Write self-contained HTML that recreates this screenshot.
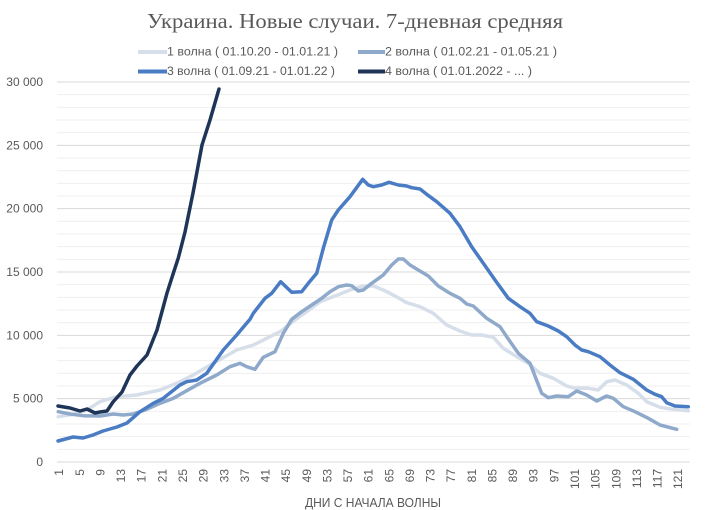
<!DOCTYPE html>
<html>
<head>
<meta charset="utf-8">
<style>
  html,body{margin:0;padding:0;background:#ffffff;}
  svg{display:block;}
  text{font-family:"Liberation Sans", sans-serif;}
</style>
</head>
<body>
<svg width="713" height="510" viewBox="0 0 713 510" xmlns="http://www.w3.org/2000/svg">
  <rect width="713" height="510" fill="#ffffff"/>
  <!-- Title -->
  <text x="147" y="28" font-family="Liberation Serif, serif" style="font-family:'Liberation Serif',serif" font-size="21" fill="#595959" textLength="416" lengthAdjust="spacingAndGlyphs">Украина. Новые случаи. 7-дневная средняя</text>

  <!-- Legend -->
  <line x1="138" y1="52" x2="167" y2="52" stroke="#D6DEEA" stroke-width="4"/>
  <text x="167" y="55.5" font-size="11.5" fill="#595959" textLength="171" lengthAdjust="spacingAndGlyphs">1 волна ( 01.10.20 - 01.01.21 )</text>
  <line x1="358" y1="52" x2="385" y2="52" stroke="#8FA9CB" stroke-width="4"/>
  <text x="385" y="55.5" font-size="11.5" fill="#595959" textLength="172" lengthAdjust="spacingAndGlyphs">2 волна ( 01.02.21 - 01.05.21 )</text>
  <line x1="138" y1="71.5" x2="167" y2="71.5" stroke="#4A7CC4" stroke-width="4"/>
  <text x="167" y="75" font-size="11.5" fill="#595959" textLength="168" lengthAdjust="spacingAndGlyphs">3 волна ( 01.09.21 - 01.01.22 )</text>
  <line x1="358" y1="71.5" x2="385" y2="71.5" stroke="#1F3558" stroke-width="4"/>
  <text x="385" y="75" font-size="11.5" fill="#595959" textLength="147" lengthAdjust="spacingAndGlyphs">4 волна ( 01.01.2022 - ... )</text>

  <!-- Gridlines -->
  <g stroke-width="1">
    <line x1="57" x2="690" y1="449.33" y2="449.33" stroke="#efefef"/>
    <line x1="57" x2="690" y1="436.67" y2="436.67" stroke="#efefef"/>
    <line x1="57" x2="690" y1="424" y2="424" stroke="#efefef"/>
    <line x1="57" x2="690" y1="411.33" y2="411.33" stroke="#efefef"/>
    <line x1="57" x2="690" y1="386" y2="386" stroke="#efefef"/>
    <line x1="57" x2="690" y1="373.33" y2="373.33" stroke="#efefef"/>
    <line x1="57" x2="690" y1="360.67" y2="360.67" stroke="#efefef"/>
    <line x1="57" x2="690" y1="348" y2="348" stroke="#efefef"/>
    <line x1="57" x2="690" y1="322.67" y2="322.67" stroke="#efefef"/>
    <line x1="57" x2="690" y1="310" y2="310" stroke="#efefef"/>
    <line x1="57" x2="690" y1="297.33" y2="297.33" stroke="#efefef"/>
    <line x1="57" x2="690" y1="284.67" y2="284.67" stroke="#efefef"/>
    <line x1="57" x2="690" y1="259.33" y2="259.33" stroke="#efefef"/>
    <line x1="57" x2="690" y1="246.67" y2="246.67" stroke="#efefef"/>
    <line x1="57" x2="690" y1="234" y2="234" stroke="#efefef"/>
    <line x1="57" x2="690" y1="221.33" y2="221.33" stroke="#efefef"/>
    <line x1="57" x2="690" y1="196" y2="196" stroke="#efefef"/>
    <line x1="57" x2="690" y1="183.33" y2="183.33" stroke="#efefef"/>
    <line x1="57" x2="690" y1="170.67" y2="170.67" stroke="#efefef"/>
    <line x1="57" x2="690" y1="158" y2="158" stroke="#efefef"/>
    <line x1="57" x2="690" y1="132.67" y2="132.67" stroke="#efefef"/>
    <line x1="57" x2="690" y1="120" y2="120" stroke="#efefef"/>
    <line x1="57" x2="690" y1="107.33" y2="107.33" stroke="#efefef"/>
    <line x1="57" x2="690" y1="94.67" y2="94.67" stroke="#efefef"/>
    <!-- major -->
    <line x1="57" x2="690" y1="462" y2="462" stroke="#d9d9d9"/>
    <line x1="57" x2="690" y1="398.67" y2="398.67" stroke="#d9d9d9"/>
    <line x1="57" x2="690" y1="335.33" y2="335.33" stroke="#d9d9d9"/>
    <line x1="57" x2="690" y1="272" y2="272" stroke="#d9d9d9"/>
    <line x1="57" x2="690" y1="208.67" y2="208.67" stroke="#d9d9d9"/>
    <line x1="57" x2="690" y1="145.33" y2="145.33" stroke="#d9d9d9"/>
    <line x1="57" x2="690" y1="82" y2="82" stroke="#d9d9d9"/>
  </g>

  <!-- Y labels -->
  <g font-size="12" fill="#595959" text-anchor="end">
    <text x="43" y="466">0</text>
    <text x="43" y="402.7">5 000</text>
    <text x="43" y="339.3">10 000</text>
    <text x="43" y="276">15 000</text>
    <text x="43" y="212.7">20 000</text>
    <text x="43" y="149.3">25 000</text>
    <text x="43" y="86">30 000</text>
  </g>

  <!-- X labels (rotated) -->
  <g font-size="12" fill="#595959" text-anchor="end">
    <text transform="translate(59.0,469) rotate(-90)" dy="0.35em">1</text>
    <text transform="translate(79.6,469) rotate(-90)" dy="0.35em">5</text>
    <text transform="translate(100.3,469) rotate(-90)" dy="0.35em">9</text>
    <text transform="translate(120.9,469) rotate(-90)" dy="0.35em">13</text>
    <text transform="translate(141.5,469) rotate(-90)" dy="0.35em">17</text>
    <text transform="translate(162.2,469) rotate(-90)" dy="0.35em">21</text>
    <text transform="translate(182.8,469) rotate(-90)" dy="0.35em">25</text>
    <text transform="translate(203.4,469) rotate(-90)" dy="0.35em">29</text>
    <text transform="translate(224.1,469) rotate(-90)" dy="0.35em">33</text>
    <text transform="translate(244.7,469) rotate(-90)" dy="0.35em">37</text>
    <text transform="translate(265.3,469) rotate(-90)" dy="0.35em">41</text>
    <text transform="translate(286.0,469) rotate(-90)" dy="0.35em">45</text>
    <text transform="translate(306.6,469) rotate(-90)" dy="0.35em">49</text>
    <text transform="translate(327.2,469) rotate(-90)" dy="0.35em">53</text>
    <text transform="translate(347.9,469) rotate(-90)" dy="0.35em">57</text>
    <text transform="translate(368.5,469) rotate(-90)" dy="0.35em">61</text>
    <text transform="translate(389.1,469) rotate(-90)" dy="0.35em">65</text>
    <text transform="translate(409.8,469) rotate(-90)" dy="0.35em">69</text>
    <text transform="translate(430.4,469) rotate(-90)" dy="0.35em">73</text>
    <text transform="translate(451.0,469) rotate(-90)" dy="0.35em">77</text>
    <text transform="translate(471.6,469) rotate(-90)" dy="0.35em">81</text>
    <text transform="translate(492.3,469) rotate(-90)" dy="0.35em">85</text>
    <text transform="translate(512.9,469) rotate(-90)" dy="0.35em">89</text>
    <text transform="translate(533.5,469) rotate(-90)" dy="0.35em">93</text>
    <text transform="translate(554.2,469) rotate(-90)" dy="0.35em">97</text>
    <text transform="translate(574.8,469) rotate(-90)" dy="0.35em">101</text>
    <text transform="translate(595.4,469) rotate(-90)" dy="0.35em">105</text>
    <text transform="translate(616.1,469) rotate(-90)" dy="0.35em">109</text>
    <text transform="translate(636.7,469) rotate(-90)" dy="0.35em">113</text>
    <text transform="translate(657.3,469) rotate(-90)" dy="0.35em">117</text>
    <text transform="translate(678.0,469) rotate(-90)" dy="0.35em">121</text>
  </g>

  <!-- X axis title -->
  <text x="305" y="507" font-size="12.5" fill="#595959" textLength="136" lengthAdjust="spacingAndGlyphs">ДНИ С НАЧАЛА ВОЛНЫ</text>

  <!-- Series -->
  <g fill="none" stroke-width="3.5" stroke-linejoin="round" stroke-linecap="round">
    <polyline stroke="#D6DEEA" points="58.3,416.7 73.3,414.3 86.7,410 100,401.7 116.7,396.7 136.7,395 160,390 176.7,383.3 193.3,375 213.3,363.3 236.7,350 253.3,345 266.7,338.3 280,331.7 295,320 306.7,311.7 320,301.7 335,296 350,290 363.3,286 373.3,286 383.3,290 393.3,295 406.7,302.7 420,306.7 433.3,313.3 446.7,325 460,331 471.7,335 481.7,335 493.3,337.3 503.3,348.3 516.7,356.7 528.3,363.3 540,373.3 553.3,378.3 566.7,386 575,388.3 588.3,388.3 598.3,390 606.7,381.7 615,380 626.7,385 638.3,393.3 646.7,401.7 660,407.3 673.3,409.3 688.3,410.7"/>
    <polyline stroke="#8FA9CB" points="58.3,411.7 70,414 83.3,415.7 100,416 113.3,414 123.3,415 133.3,414 146.7,409.3 160,403.3 173.3,398.3 186.7,390.7 200,383.3 216.7,375 230,366.7 240,363.3 246.7,366.7 255,369.3 263.3,357.3 275,351.7 283.3,333.3 291.7,319.3 301.7,311.7 311.7,305 321.7,298.3 330,291.7 338.3,286.7 346.7,285 351.7,285.7 358.3,291 363.3,290 371.7,283.3 383.3,275 391.7,265 398.3,259 403.3,259 410,265 418.3,270 428.3,276 438.3,286 450,293.3 460,298.3 466.7,304 473.3,306 486.7,318.3 500,326.7 506.7,336.7 518.3,353.3 530,363.3 541.7,393.3 548.3,397.7 556.7,396 568.3,396.7 576.7,391 586.7,395 596.7,401 606.7,396 613.3,398.3 623.3,406.7 635,411.7 648.3,418.3 660,425 676.7,429.3"/>
    <polyline stroke="#4A7CC4" points="58,441 73,437 83,438 93,435 103,431 117,427 127,423 140,411.7 153.3,403.3 163.3,398.3 180,385 186.7,381.7 196.7,380 206.7,373.3 223.3,350 236.7,335 250,319.3 253.3,313.3 265,298.3 271.7,293.3 280.7,281.7 291.7,292.3 301.7,291.7 308.3,283.3 316.7,273.3 323.3,248.3 331.7,220 338.3,210 350,196.7 362.7,179.3 368.3,185 373.3,186.7 381.7,185 389,182.3 398.3,185 406.7,186 411.7,187.7 420,189 426.7,194.3 436.7,201.7 450,213.3 460,226.7 471.7,246.7 483.3,263.3 495,280 508.3,298.3 520,306.7 530,313.3 536.7,321.7 548.3,326 558.3,331 566.7,336.7 575,345 581.7,350 588.3,351.7 600,356.7 610,365 620,372.7 633.3,379.3 646.7,390 655,394.3 661.7,396.7 666.7,402.7 675,406 688.3,406.7"/>
    <polyline stroke="#1F3558" points="58,406 70,408 80,411 87,409 95,413 100,412 107,411 113,402 122,392 130,375 137,366 147,355 157,330 167,293 173.3,273.3 178.3,258 185,232 193,193 202,145 210,120 219,89"/>
  </g>
</svg>
</body>
</html>
